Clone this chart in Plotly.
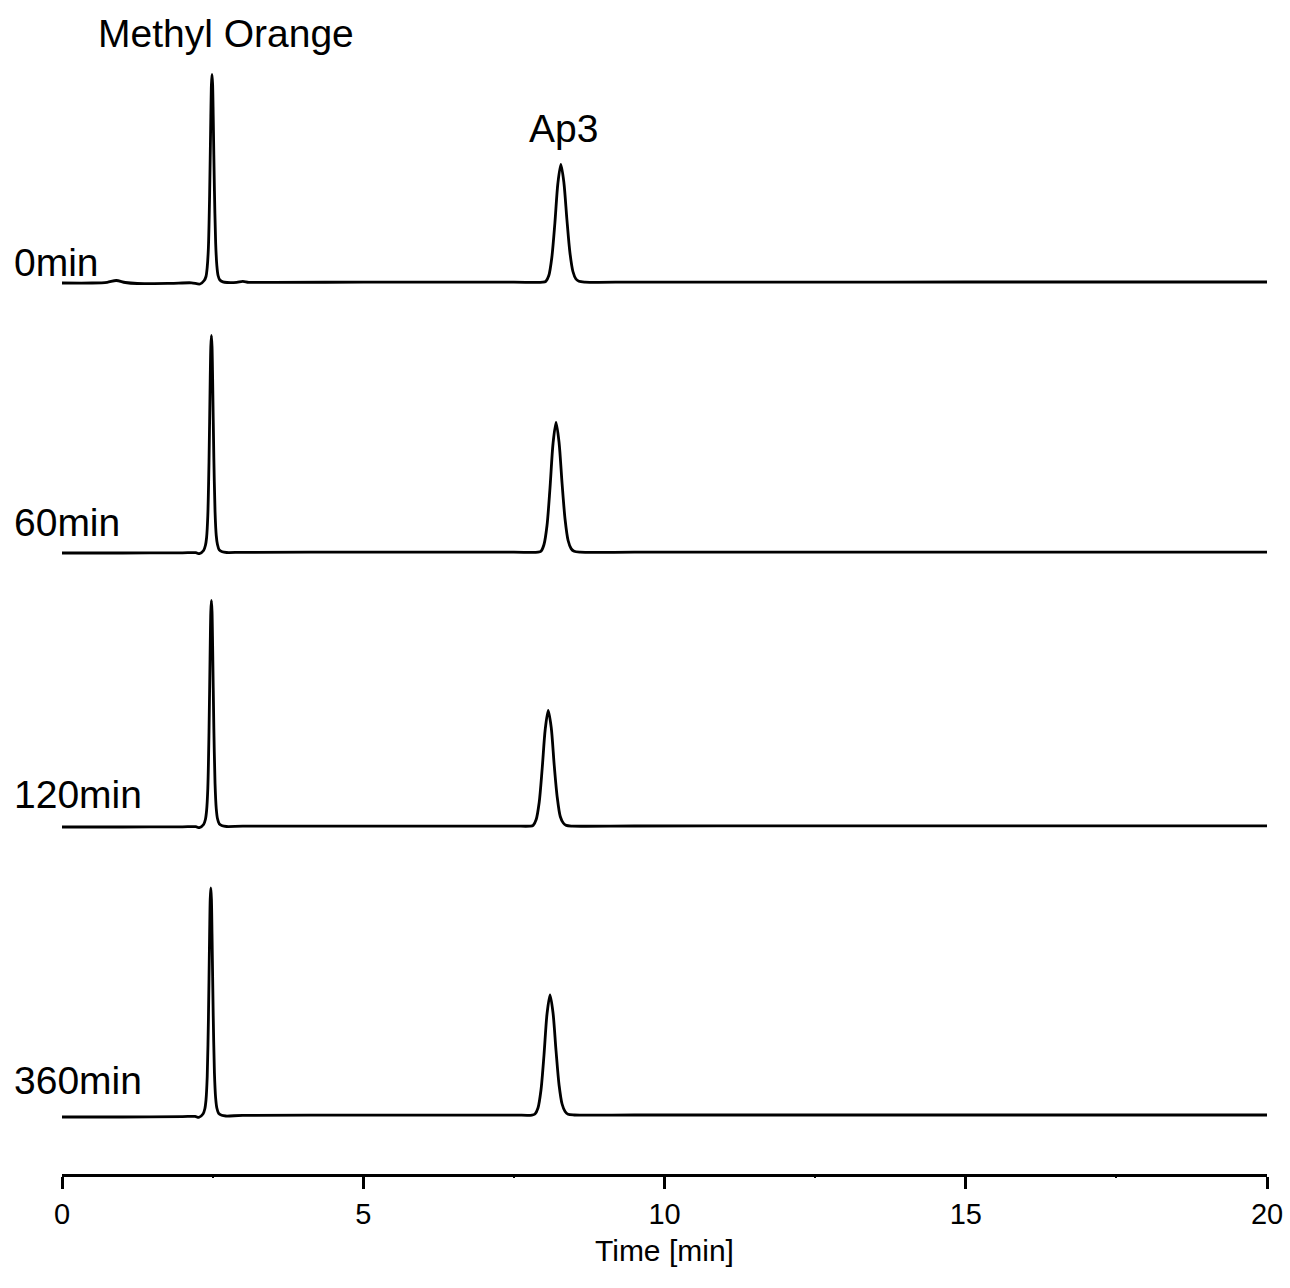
import plotly.graph_objects as go

# Chromatogram samples (time in min, detector signal in mAU, baseline-corrected)
T_0MIN = [0.0, 0.5, 0.75, 0.9, 1.05, 1.25, 1.8, 2.15, 2.29,
          2.36, 2.39, 2.41, 2.43, 2.45, 2.47, 2.48, 2.49, 2.50, 2.51, 2.53,
          2.55, 2.57, 2.59, 2.62, 2.67, 2.74,
          2.9, 3.0, 3.1, 3.5, 5.0, 7.5,
          7.98, 8.03, 8.08, 8.13, 8.18, 8.23, 8.28, 8.33, 8.38, 8.43, 8.48,
          8.53, 8.58, 8.68,
          9.5, 12.0, 15.0, 20.0]
Y_0MIN = [-0.5, -0.5, 0.2, 2.0, 0.0, -1.0, -0.8, -0.3, -1.5,
          2, 6, 15, 35, 87, 166, 198, 208, 198, 166, 92,
          40, 17, 7, 2.5, 0.6, 0,
          0.2, 1.2, 0.2, 0.2, 0.3, 0.3,
          0.3, 1.2, 7, 25, 59, 99, 118, 100, 63, 30, 11,
          3.5, 1.2, 0.4,
          0.4, 0.4, 0.5, 0.5]

T_60MIN = [0.0, 1.0, 2.0, 2.22, 2.28,
           2.35, 2.38, 2.40, 2.42, 2.44, 2.46, 2.47, 2.48, 2.49, 2.50, 2.52,
           2.54, 2.56, 2.58, 2.61, 2.66, 2.73,
           3.0, 5.0, 7.5,
           7.90, 7.95, 8.00, 8.05, 8.10, 8.15, 8.20, 8.25, 8.30, 8.35, 8.40,
           8.45, 8.50, 8.60,
           9.5, 12.0, 15.0, 20.0]
Y_60MIN = [-0.5, -0.5, -0.3, -0.2, -1.2,
           2, 7, 15, 37, 91, 174, 206, 217, 206, 174, 95,
           41, 17, 8, 2.6, 0.7, 0,
           0.2, 0.3, 0.3,
           0.3, 1.3, 8, 27, 65, 109, 130, 110, 69, 33, 12,
           3.9, 1.2, 0.3,
           0.3, 0.3, 0.3, 0.3]

T_120MIN = [0.0, 1.0, 2.0, 2.22, 2.28,
            2.35, 2.38, 2.40, 2.42, 2.44, 2.46, 2.47, 2.48, 2.49, 2.50, 2.52,
            2.54, 2.56, 2.58, 2.61, 2.66, 2.73,
            3.0, 5.0, 7.5,
            7.77, 7.82, 7.87, 7.92, 7.97, 8.02, 8.07, 8.12, 8.17, 8.22, 8.27,
            8.32, 8.37, 8.47,
            9.5, 12.0, 15.0, 20.0]
Y_120MIN = [-0.5, -0.5, -0.3, -0.2, -1.2,
            2, 7, 16, 38, 95, 181, 215, 226, 215, 181, 99,
            43, 18, 8, 2.7, 0.7, 0,
            0.3, 0.4, 0.4,
            0.4, 1.2, 7, 24, 58, 97, 116, 99, 61, 29, 10,
            3.5, 1.1, 0.4,
            0.5, 0.6, 0.6, 0.6]

T_360MIN = [0.0, 1.0, 2.0, 2.21, 2.27,
            2.34, 2.37, 2.39, 2.41, 2.43, 2.45, 2.46, 2.47, 2.48, 2.49, 2.51,
            2.53, 2.55, 2.57, 2.60, 2.65, 2.72,
            3.0, 5.0, 7.5,
            7.80, 7.85, 7.90, 7.95, 8.00, 8.05, 8.10, 8.15, 8.20, 8.25, 8.30,
            8.35, 8.40, 8.50,
            9.5, 12.0, 15.0, 20.0]
Y_360MIN = [-1.0, -1.0, -0.6, -0.4, -1.4,
            2, 7, 16, 39, 96, 182, 217, 228, 217, 182, 100,
            43, 18, 8, 2.7, 0.7, 0,
            0.6, 0.8, 0.9,
            0.9, 2.0, 8, 26, 61, 102, 121, 103, 65, 31, 12,
            4.5, 1.8, 1.0,
            1.0, 1.0, 1.0, 1.0]

SAMPLES = ["0min", "60min", "120min", "360min"]
TIMES = [T_0MIN, T_60MIN, T_120MIN, T_360MIN]
SIGNALS = [Y_0MIN, Y_60MIN, Y_120MIN, Y_360MIN]
# vertical stacking offset of each chromatogram (mAU)
OFFSETS = [891.5, 621.5, 347.5, 58.0]
# where each sample label sits, relative to its trace offset
LABEL_RISE = [20, 30, 32, 36]

PEAK_LABELS = ["Methyl Orange", "Ap3"]
PEAK_LABEL_X = [2.72, 8.32]
PEAK_LABEL_Y = [1141, 1046]

X_TICKS = [0, 5, 10, 15, 20]
X_TITLE = "Time [min]"

FONT = "Liberation Sans, Arial, sans-serif"
LABEL_SIZE = 39

fig = go.Figure()

for name, t, y, off in zip(SAMPLES, TIMES, SIGNALS, OFFSETS):
    fig.add_trace(go.Scatter(
        x=t, y=[v + off for v in y], mode="lines", name=name,
        line=dict(color="black", width=2.8, shape="spline", smoothing=0.8),
        showlegend=False, hoverinfo="skip",
    ))

for name, off, rise in zip(SAMPLES, OFFSETS, LABEL_RISE):
    fig.add_annotation(
        x=-0.0415, xref="paper", y=off + rise, yref="y",
        text=name, showarrow=False, xanchor="left", yanchor="middle",
        font=dict(family=FONT, size=LABEL_SIZE, color="black"),
    )

for text, x, y in zip(PEAK_LABELS, PEAK_LABEL_X, PEAK_LABEL_Y):
    fig.add_annotation(
        x=x, y=y, xref="x", yref="y", text=text, showarrow=False,
        xanchor="center", yanchor="middle",
        font=dict(family=FONT, size=LABEL_SIZE, color="black"),
    )

# x-axis title placed just under the tick labels
fig.add_annotation(
    x=0.5, xref="paper", y=-0.0655, yref="paper", text=X_TITLE,
    showarrow=False, xanchor="center", yanchor="middle",
    font=dict(family=FONT, size=30, color="black"),
)

fig.update_layout(
    width=1290, height=1288,
    margin=dict(l=62, r=23, t=0, b=114),
    paper_bgcolor="white", plot_bgcolor="white",
    font=dict(family=FONT, color="black"),
    xaxis=dict(
        range=[0, 20], showgrid=False, zeroline=False,
        showline=True, linecolor="black", linewidth=2.6,
        ticks="outside", ticklen=12, tickwidth=2.6, tickcolor="black",
        tickvals=X_TICKS, ticktext=[str(v) for v in X_TICKS],
        tickfont=dict(family=FONT, size=29, color="black"),
        minor=dict(dtick=2.5, ticks="outside", ticklen=1, tickwidth=2,
                   tickcolor="black", showgrid=False),
    ),
    yaxis=dict(range=[0, 1174], visible=False, fixedrange=True),
)

fig.write_html("out.html")
